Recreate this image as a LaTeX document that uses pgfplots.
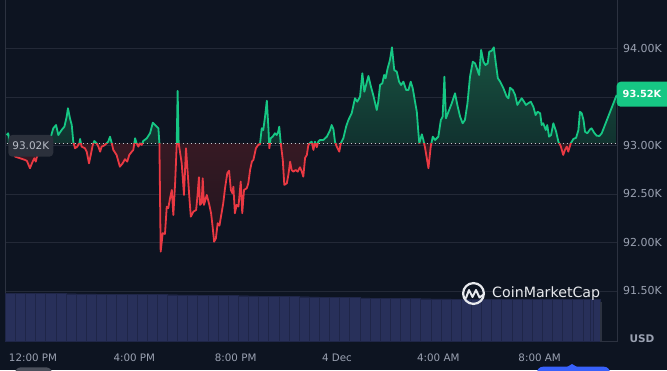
\documentclass[border=0pt]{standalone}
\usepackage{pgfplots}
\pgfplotsset{compat=1.18}
\usepackage{pgfplotstable}
\usepackage{fontspec}
\setmainfont{DejaVu Sans}
\definecolor{bg}{HTML}{0D1421}
\definecolor{gridc}{HTML}{232937}
\definecolor{axc}{HTML}{2C3240}
\definecolor{cgreen}{HTML}{16C784}
\definecolor{cred}{HTML}{EA3943}
\definecolor{txt}{HTML}{9AA1B1}
\definecolor{vol}{HTML}{28305A}
\definecolor{volline}{HTML}{1F2648}
\definecolor{gtop}{RGB}{24,82,64}
\definecolor{gbot}{RGB}{8,14,28}
\definecolor{rtop}{RGB}{76,30,40}
\definecolor{rbot}{RGB}{30,20,30}
\definecolor{dotc}{HTML}{C4C8D0}
\definecolor{labbg}{HTML}{2B303B}
\definecolor{labtxt}{HTML}{B8BCC6}
\definecolor{logow}{HTML}{E8EAEE}
\definecolor{pillg}{HTML}{4B505C}
\definecolor{cblue}{HTML}{3861FB}

\pgfplotstableread{
x y
-1.04 93108
-0.98 93126
-0.91 93023
-0.71 92885
-0.51 92868
-0.32 92851
-0.24 92840
-0.12 92765
-0.03 92823
0.05 92868
0.11 92833
0.15 92878
0.28 92954
0.47 92995
0.67 93057
0.80 93177
0.91 93211
1.00 93108
1.13 93160
1.24 93194
1.33 93297
1.38 93384
1.46 93280
1.53 93211
1.59 93039
1.66 92971
1.75 92988
1.83 93023
1.86 93067
1.92 92988
2.05 92971
2.12 92936
2.21 92816
2.28 92902
2.36 93005
2.42 93046
2.51 93023
2.58 92988
2.65 92936
2.71 92988
2.80 92998
2.88 93015
2.97 93039
3.04 93091
3.11 93023
3.17 92954
3.30 92902
3.43 92781
3.54 92816
3.63 92858
3.72 92833
3.80 92902
3.90 92936
3.96 92954
4.03 93074
4.09 93023
4.16 92988
4.22 93023
4.29 93005
4.35 93046
4.49 93074
4.62 93126
4.73 93235
4.82 93211
4.95 93177
4.99 93023
5.04 91905
5.12 92095
5.21 92088
5.28 92369
5.34 92353
5.41 92456
5.48 92541
5.54 92283
5.61 92610
5.67 92988
5.71 93562
5.75 93023
5.87 92816
5.96 92490
6.04 92971
6.09 92781
6.17 92472
6.23 92266
6.33 92317
6.44 92335
6.49 92472
6.55 92672
6.59 92387
6.66 92404
6.70 92662
6.75 92387
6.86 92490
6.96 92387
7.03 92301
7.09 92163
7.15 92008
7.22 92043
7.29 92198
7.36 92173
7.42 92266
7.51 92404
7.58 92559
7.67 92713
7.74 92740
7.81 92541
7.87 92507
7.91 92575
7.97 92301
8.04 92387
8.11 92369
8.20 92627
8.26 92301
8.33 92541
8.44 92559
8.50 92610
8.57 92747
8.64 92833
8.70 92851
8.80 92971
8.89 93005
8.96 93015
9.03 93177
9.09 93160
9.16 93297
9.23 93462
9.29 93194
9.33 92971
9.38 93074
9.46 93091
9.55 93126
9.62 93108
9.68 93142
9.72 93194
9.78 93023
9.86 92851
9.92 92593
10.02 92610
10.08 92696
10.15 92833
10.21 92747
10.28 92730
10.37 92747
10.45 92730
10.54 92775
10.61 92730
10.67 92678
10.74 92871
10.81 92902
10.87 93005
10.94 93029
11.00 93039
11.07 92954
11.13 93039
11.20 92981
11.26 93039
11.33 93057
11.46 93057
11.60 93091
11.73 93160
11.79 93211
11.86 93167
11.92 93039
11.99 92988
12.09 92936
12.15 93023
12.25 93074
12.36 93194
12.45 93263
12.58 93332
12.71 93487
12.80 93452
12.91 93503
13.00 93744
13.08 93555
13.24 93717
13.34 93606
13.43 93521
13.57 93366
13.63 93452
13.70 93624
13.79 93641
13.86 93727
13.92 93693
14.00 93796
14.09 93881
14.17 94012
14.26 93778
14.36 93761
14.45 93658
14.53 93624
14.62 93658
14.73 93572
14.82 93572
14.91 93658
14.99 93590
15.08 93452
15.15 93348
15.21 93142
15.25 93023
15.35 93115
15.41 93057
15.48 92971
15.61 92765
15.70 92988
15.78 93091
15.87 93057
16.00 93091
16.10 93263
16.17 93297
16.24 93709
16.30 93280
16.40 93348
16.53 93435
16.66 93538
16.75 93418
16.86 93297
16.96 93229
17.05 93263
17.15 93435
17.25 93709
17.36 93864
17.45 93847
17.52 93796
17.61 93727
17.69 93985
17.78 93864
17.86 93830
17.95 93847
18.01 93967
18.11 93977
18.19 94012
18.27 93847
18.35 93693
18.44 93658
18.57 93590
18.70 93503
18.77 93487
18.83 93596
18.94 93572
19.03 93521
19.12 93418
19.20 93452
19.29 93487
19.38 93452
19.46 93418
19.55 93435
19.65 93452
19.75 93400
19.84 93314
19.92 93348
20.02 93332
20.08 93211
20.14 93229
20.24 93160
20.30 93211
20.37 93091
20.45 93108
20.54 93229
20.65 93142
20.74 93039
20.83 92995
20.93 92902
21.00 92954
21.07 92988
21.13 92936
21.23 93023
21.33 93067
21.44 93080
21.53 93160
21.59 93348
21.66 93332
21.73 93263
21.79 93142
21.88 93126
21.99 93167
22.05 93177
22.15 93132
22.25 93101
22.36 93098
22.45 93126
23.04 93521
}\price

\pgfplotstableread{
x y
-1.2 93020
23.2 93020
}\base

\pgfplotstableread{
x v
-0.9 47.7
-0.5 47.6
-0.1 47.6
0.3 47.5
0.7 47.4
1.1 47.4
1.5 47.3
1.9 47.2
2.3 47.1
2.7 47.0
3.1 46.9
3.5 46.8
3.9 46.8
4.3 46.6
4.7 46.5
5.1 46.4
5.5 46.3
5.9 46.2
6.3 46.1
6.7 46.0
7.1 45.8
7.5 45.6
7.9 45.5
8.3 45.3
8.7 45.1
9.1 45.0
9.5 44.8
9.9 44.6
10.3 44.4
10.7 44.3
11.1 44.1
11.5 43.9
11.9 43.7
12.3 43.5
12.7 43.4
13.1 43.2
13.5 43.0
13.9 42.9
14.3 42.7
14.7 42.5
15.1 42.4
15.5 42.3
15.9 42.2
16.3 42.1
16.7 42.0
17.1 41.9
17.5 41.8
17.9 41.8
18.3 41.7
18.7 41.7
19.1 41.6
19.5 41.6
19.9 41.6
20.3 41.5
20.7 41.5
21.1 41.5
21.5 41.5
21.9 41.5
22.2 41.5
}\volume

\pgfplotsset{
  ov/.style={scale only axis, width=612pt, xmin=-1.105, xmax=23.053,
    anchor=south west, hide axis},
  topax/.style={ov, height=145.5pt, at={(5pt,226.44pt)}, ymin=93020, ymax=94520},
  botax/.style={ov, height=197.5pt, at={(5pt,29pt)}, ymin=90984, ymax=93020},
  fullax/.style={ov, height=343pt, at={(5pt,29pt)}, ymin=90984, ymax=94520},
}

\begin{document}
\begin{tikzpicture}
\useasboundingbox (0pt,0pt) rectangle (667pt,370pt);
\clip (0pt,0pt) rectangle (667pt,370pt);
\fill[bg] (0pt,0pt) rectangle (667pt,370pt);

% grid, frame and tick labels
\begin{axis}[scale only axis, width=612pt, height=343pt, at={(5pt,29pt)}, anchor=south west,
  xmin=-1.105, xmax=23.053, ymin=90984, ymax=94520,
  scaled y ticks=false, scaled x ticks=false,
  axis line style={draw=axc, line width=0.8pt},
  xtick={0,4,8,12,16,20},
  xticklabels={12:00 PM,4:00 PM,8:00 PM,4 Dec,4:00 AM,8:00 AM},
  ytick={91500,92000,92500,93000,93500,94000},
  yticklabels={91.50K,92.00K,92.50K,93.00K,,94.00K},
  major tick length=0pt, tick style={draw=none},
  ymajorgrids, major grid style={draw=gridc, line width=0.8pt},
  yticklabel pos=right,
  xticklabel style={font=\fontsize{10.3}{12}\selectfont, text=txt, anchor=base, yshift=-20pt},
  yticklabel style={font=\fontsize{11}{13}\selectfont, text=txt, anchor=west, inner sep=0pt, xshift=6pt},
]
\addplot[draw=none] table[x=x,y=y]{\base};
\end{axis}

% volume
\begin{axis}[ov, height=343pt, at={(5pt,29pt)}, ymin=0, ymax=343]
\addplot[ybar, bar width=0.4, fill=vol, draw=volline, line width=0.4pt] table[x=x,y=v]{\volume};
\addplot[ybar, bar width=0.03, fill=volline, draw=axc, line width=0.6pt] coordinates {(22.41,39)};
\end{axis}

% green area (clipped above the reference)
\begin{axis}[topax]
\addplot[draw=none, top color=gtop, bottom color=gbot] table[x=x,y=y]{\price}
  -- (axis cs:23.04,93020) -- (axis cs:-1.04,93020) -- cycle;
\end{axis}

% red area (clipped below the reference)
\begin{axis}[botax]
\addplot[draw=none, top color=rtop, bottom color=rbot] table[x=x,y=y]{\price}
  -- (axis cs:23.04,93020) -- (axis cs:-1.04,93020) -- cycle;
\end{axis}

% dotted reference line
\begin{axis}[fullax]
\addplot[draw=dotc, line width=1pt, dash pattern=on 1pt off 3pt] table[x=x,y=y]{\base};
\end{axis}

% price line above / below the reference
\begin{axis}[topax]
\addplot[cgreen, line width=1.8pt, line join=round] table[x=x,y=y]{\price};
\end{axis}
\begin{axis}[botax]
\addplot[cred, line width=1.8pt, line join=round] table[x=x,y=y]{\price};
\end{axis}

% labels
\fill[labbg, rounded corners=4pt] (8.3pt,213.3pt) rectangle (53.3pt,235pt);
\node[text=labtxt, font=\fontsize{10.5}{12}\selectfont] at (30.8pt,224.2pt) {93.02K};
\fill[cgreen, rounded corners=4pt] (616.7pt,263.3pt) rectangle (680pt,288.3pt);
\node[text=white, font=\bfseries\fontsize{9.8}{12}\selectfont] at (642pt,275.8pt) {93.52K};
\node[text=txt, font=\bfseries\fontsize{10.5}{12}\selectfont] at (642pt,31pt) {USD};

% logo
\draw[logow, line width=2.2pt] (473.5pt,76.5pt) circle (10.4pt);
\draw[logow, line width=2pt, line join=round, line cap=round]
  (466pt,72pt) -- (469pt,80pt) -- (472.5pt,73pt) -- (476pt,80pt) -- (479.5pt,72.5pt) -- (483pt,75pt);
\node[anchor=west, text=logow, font=\fontsize{14.2}{16}\selectfont, inner sep=0pt] at (492pt,76pt) {CoinMarketCap};

% bottom controls
\fill[pillg, rounded corners=6pt] (15pt,-12pt) rectangle (52pt,2.7pt);
\fill[cblue, rounded corners=6pt] (537pt,-12pt) rectangle (610pt,3.3pt);
\fill[cblue] (567pt,3pt) -- (572pt,6pt) -- (577pt,3pt) -- cycle;
\end{tikzpicture}
\end{document}
